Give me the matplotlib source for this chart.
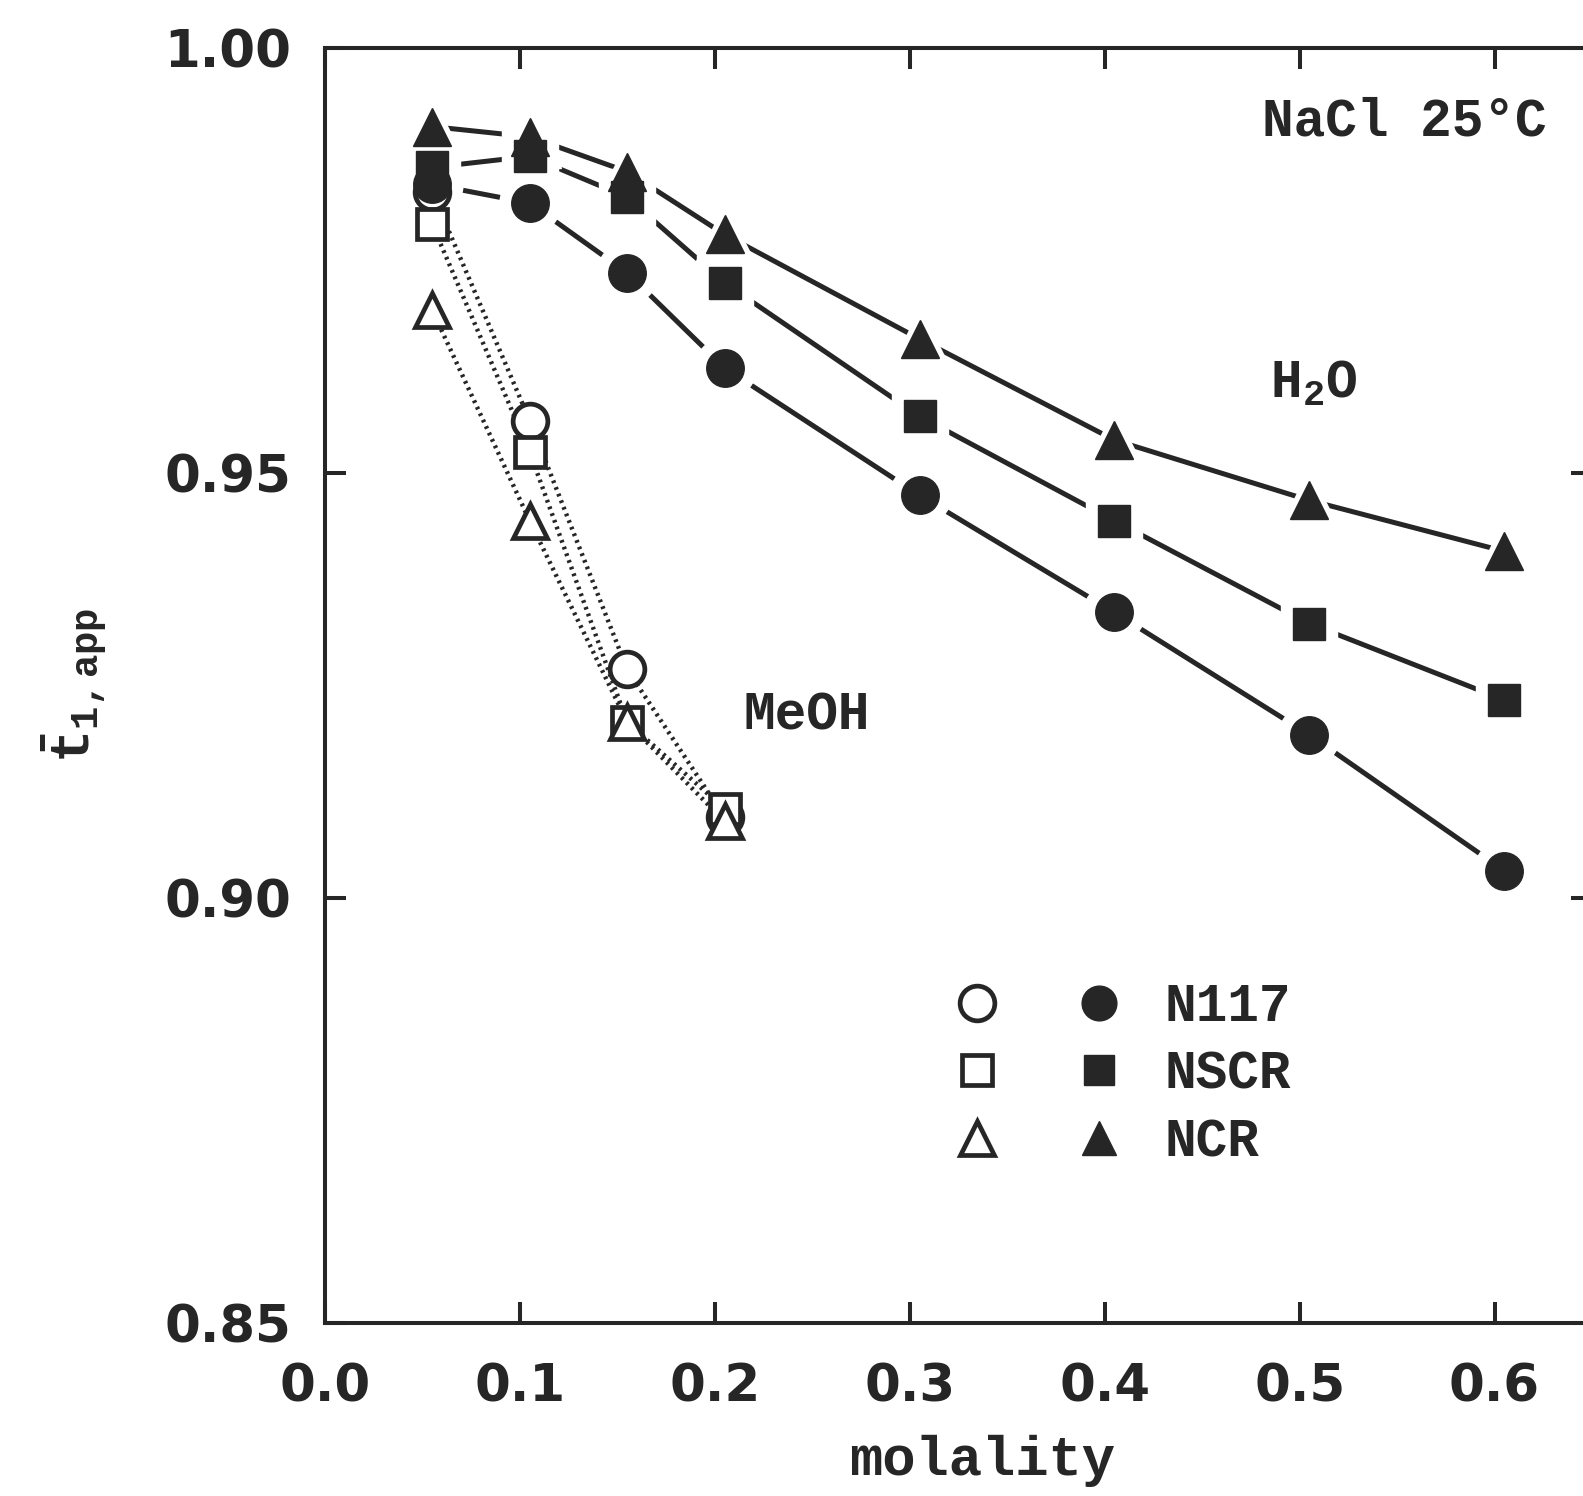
import matplotlib
matplotlib.use("Agg")
import matplotlib.pyplot as plt
from matplotlib.lines import Line2D
from matplotlib.legend_handler import HandlerTuple

# ---------------- data ----------------
molality_h2o = [0.055, 0.105, 0.155, 0.205, 0.305, 0.405, 0.505, 0.605]
n117_h2o = [0.9840, 0.9818, 0.9736, 0.9624, 0.9474, 0.9336, 0.9192, 0.9032]
nscr_h2o = [0.9860, 0.9873, 0.9825, 0.9724, 0.9567, 0.9444, 0.9323, 0.9233]
ncr_h2o = [0.9908, 0.9896, 0.9855, 0.9781, 0.9658, 0.9539, 0.9468, 0.9408]

molality_meoh = [0.055, 0.105, 0.155, 0.205]
n117_meoh = [0.9831, 0.9562, 0.9269, 0.9095]
nscr_meoh = [0.9793, 0.9525, 0.9207, 0.9105]
ncr_meoh = [0.9692, 0.9444, 0.9207, 0.9090]

membranes = ["N117", "NSCR", "NCR"]
xticks = [0.0, 0.1, 0.2, 0.3, 0.4, 0.5, 0.6]
yticks = [0.85, 0.90, 0.95, 1.00]

# ---------------- style ----------------
INK = "#262626"
SLAB = "Liberation Mono"
plt.rcParams["mathtext.fontset"] = "custom"
plt.rcParams["mathtext.rm"] = "Liberation Mono:bold"
plt.rcParams["mathtext.it"] = "Liberation Mono:bold"
plt.rcParams["mathtext.bf"] = "Liberation Mono:bold"

fig = plt.figure(figsize=(15.83, 14.96), dpi=100)
ax = fig.add_axes([0.2053, 0.1159, 0.8004, 0.8517])
ax.set_xlim(0.0, 0.65)
ax.set_ylim(0.85, 1.00)

markers = {"N117": ("o", 27), "NSCR": ("s", 23), "NCR": ("^", 27)}
h2o = {"N117": n117_h2o, "NSCR": nscr_h2o, "NCR": ncr_h2o}
meoh = {"N117": n117_meoh, "NSCR": nscr_meoh, "NCR": ncr_meoh}

for m in membranes:
    mk, ms = markers[m]
    ys = h2o[m]
    ax.plot(molality_h2o, ys, "-", color=INK, lw=3.6, zorder=2, solid_capstyle="round")
    ax.plot(molality_h2o, ys, ls="none", marker=mk, ms=ms + 17, mfc="white", mec="white", zorder=3)
    ax.plot(molality_h2o, ys, ls="none", marker=mk, ms=ms, mfc=INK, mec=INK, zorder=5)

for m in membranes:
    mk, ms = markers[m]
    ys = meoh[m]
    ax.plot(molality_meoh, ys, ls=(0, (0.6, 1.0)), color=INK, lw=3.2, zorder=2)
    ax.plot(molality_meoh, ys, ls="none", marker=mk, ms=ms - 2, mfc="white", mec=INK,
            mew=3.4, zorder=4)

# ---------------- axes ----------------
for s in ax.spines.values():
    s.set_linewidth(2.9)
    s.set_color(INK)
ax.set_xticks(xticks)
ax.set_xticklabels([f"{v:.1f}" for v in xticks])
ax.set_yticks(yticks)
ax.set_yticklabels([f"{v:.2f}" for v in yticks])
ax.tick_params(direction="in", length=15, width=2.9, color=INK, top=True, right=True,
               labelsize=37, labelcolor=INK)
ax.tick_params(axis="x", pad=29)
ax.tick_params(axis="y", pad=24)
for lab in ax.get_xticklabels() + ax.get_yticklabels():
    lab.set_fontweight("bold")
    lab.set_family("DejaVu Sans")

ax.set_xlabel("molality", fontsize=40, fontweight="bold", family=SLAB, color=INK)
ax.xaxis.set_label_coords(0.519, -0.088)
ax.set_ylabel(r"$\bar{t}_{1,app}$", fontsize=40, color=INK, labelpad=40)

ax.text(0.4806, 0.99143, "NaCl 25°C", fontsize=38, fontweight="bold", family=SLAB,
        color=INK, ha="left", va="center")
ax.text(0.4847, 0.9605, r"H$_2$O", fontsize=38, fontweight="bold", family=SLAB,
        color=INK, ha="left", va="center")
ax.text(0.2145, 0.92143, "MeOH", fontsize=38, fontweight="bold", family=SLAB,
        color=INK, ha="left", va="center")

# ---------------- legend ----------------
handles = []
for m in membranes:
    mk, ms = markers[m]
    op = Line2D([], [], ls="none", marker=mk, ms=ms - 2, mfc="white", mec=INK, mew=3.4)
    fi = Line2D([], [], ls="none", marker=mk, ms=ms - 2, mfc=INK, mec=INK)
    handles.append((op, fi))
leg = ax.legend(handles, membranes, handler_map={tuple: HandlerTuple(ndivide=None, pad=0.0)},
                loc="upper left", bbox_to_anchor=(0.4295, 0.3045), frameon=False,
                handlelength=4.6, handletextpad=0.1, labelspacing=0.33,
                prop={"family": SLAB, "weight": "bold", "size": 38})
for t in leg.get_texts():
    t.set_color(INK)

fig.savefig("out.png", dpi=100, facecolor="white")
